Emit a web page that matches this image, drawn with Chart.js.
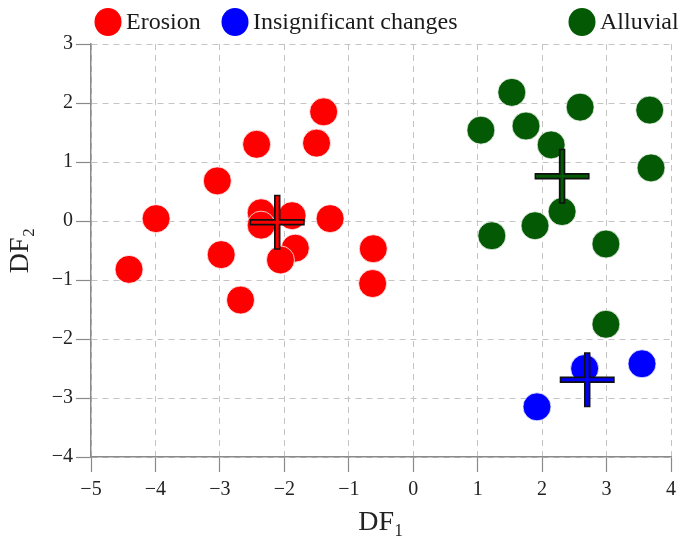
<!DOCTYPE html>
<html><head><meta charset="utf-8">
<script src="https://cdn.jsdelivr.net/npm/chart.js@4"></script>
<style>html,body{margin:0;padding:0;background:#fff}#wrap{width:678px;height:539px}</style>
</head><body><div id="wrap"><canvas id="c" width="678" height="539"></canvas></div>
<script>
// ---- data ----
const groups = ['Erosion', 'Insignificant changes', 'Alluvial'];
const groupColors = ['#ff0000', '#0000ff', '#045a04'];

const erosionX = [-3.99, -4.41, -3.04, -2.98, -2.68, -2.43, -2.36, -2.36, -1.88, -1.83, -2.06, -1.50, -1.39, -1.29, -0.62, -0.63];
const erosionY = [0.04, -0.82, 0.68, -0.57, -1.34, 1.30, 0.14, -0.07, 0.09, -0.46, -0.66, 1.32, 1.85, 0.04, -0.47, -1.06];

const insignificantX = [2.66, 3.55, 1.92];
const insignificantY = [-2.50, -2.42, -3.15];

const alluvialX = [1.53, 1.05, 1.75, 2.14, 2.59, 3.67, 3.69, 2.31, 1.89, 1.22, 2.99, 2.99];
const alluvialY = [2.18, 1.54, 1.61, 1.29, 1.93, 1.88, 0.90, 0.16, -0.08, -0.25, -0.39, -1.75];

// group centroids (Erosion, Insignificant changes, Alluvial)
const centroidX = [-2.11, 2.70, 2.31];
const centroidY = [-0.02, -2.69, 0.76];

const xTicks = [-5, -4, -3, -2, -1, 0, 1, 2, 3, 4];
const yTicks = [-4, -3, -2, -1, 0, 1, 2, 3];
const xTitle = 'DF\u2081';
const yTitle = 'DF\u2082';

// ---- build ----
const toPts = (xs, ys) => xs.map((x, i) => ({x: x, y: ys[i]}));
const seriesX = [erosionX, insignificantX, alluvialX];
const seriesY = [erosionY, insignificantY, alluvialY];

const datasets = [];
groups.forEach((g, i) => {
  datasets.push({
    label: g, data: toPts(seriesX[i], seriesY[i]),
    backgroundColor: groupColors[i], borderColor: 'rgba(255,255,255,0.75)', borderWidth: 1,
    pointRadius: 14, pointStyle: 'circle', order: 2, clip: false
  });
});
groups.forEach((g, i) => {
  datasets.push({
    label: g + ' centroid outline', data: [{x: centroidX[i], y: centroidY[i]}],
    pointStyle: 'cross', pointRadius: 27.5, borderColor: '#111', borderWidth: 6.5,
    backgroundColor: '#111', order: 1, clip: false
  });
  datasets.push({
    label: g + ' centroid', data: [{x: centroidX[i], y: centroidY[i]}],
    pointStyle: 'cross', pointRadius: 26, borderColor: groupColors[i], borderWidth: 3,
    backgroundColor: groupColors[i], order: 0, clip: false
  });
});

const SERIF = '"Liberation Serif", "Times New Roman", "DejaVu Serif", serif';
const minus = v => String(v).replace('-', '\u2212');

const legendPlugin = {
  id: 'customLegend',
  afterDraw(chart, args, opts) {
    const ctx = chart.ctx;
    ctx.save();
    opts.items.forEach((it, i) => {
      ctx.beginPath();
      ctx.fillStyle = groupColors[i];
      ctx.ellipse(it.x, opts.y, 13.5, 14, 0, 0, Math.PI * 2);
      ctx.fill();
      ctx.fillStyle = '#1a1a1a';
      ctx.font = '24px ' + SERIF;
      ctx.textBaseline = 'middle';
      ctx.textAlign = 'left';
      ctx.fillText(groups[i], it.x + 18, opts.y + 1);
    });
    ctx.restore();
  }
};

const axisCommon = {
  grid: {color: '#c4c4c4', lineWidth: 1, tickLength: 15,
         tickColor: '#8a8a8a', tickBorderDash: [], tickWidth: 1.2},
  border: {display: true, color: '#8a8a8a', width: 1.5, dash: [6, 5]}
};

new Chart(document.getElementById('c'), {
  type: 'scatter',
  data: {datasets: datasets},
  plugins: [legendPlugin],
  options: {
    responsive: false, animation: false, events: [],
    layout: {autoPadding: false, padding: {top: 44, right: 0, left: 0, bottom: 0}},
    plugins: {
      legend: {display: false}, tooltip: {enabled: false},
      customLegend: {y: 22, items: [{x: 108}, {x: 235}, {x: 582}]}
    },
    scales: {
      x: {
        type: 'linear', min: xTicks[0], max: xTicks[xTicks.length - 1],
        afterBuildTicks: s => { s.ticks = xTicks.map(v => ({value: v})); },
        afterFit: s => { s.height = 82; s.paddingRight = 7; },
        ticks: {color: '#222', font: {family: SERIF, size: 20}, padding: 6, callback: minus, maxRotation: 0},
        grid: axisCommon.grid, border: axisCommon.border,
        title: {display: true, text: xTitle, color: '#222', font: {family: SERIF, size: 28}, padding: {top: 0, bottom: 0}}
      },
      y: {
        type: 'linear', min: yTicks[0], max: yTicks[yTicks.length - 1],
        afterBuildTicks: s => { s.ticks = yTicks.map(v => ({value: v})); },
        afterFit: s => { s.width = 91; },
        ticks: {color: '#222', font: {family: SERIF, size: 20}, padding: 3, callback: minus},
        grid: axisCommon.grid, border: axisCommon.border,
        title: {display: true, text: yTitle, color: '#222', font: {family: SERIF, size: 28}, padding: {top: 4, bottom: 0}}
      }
    }
  }
});
</script></body></html>
